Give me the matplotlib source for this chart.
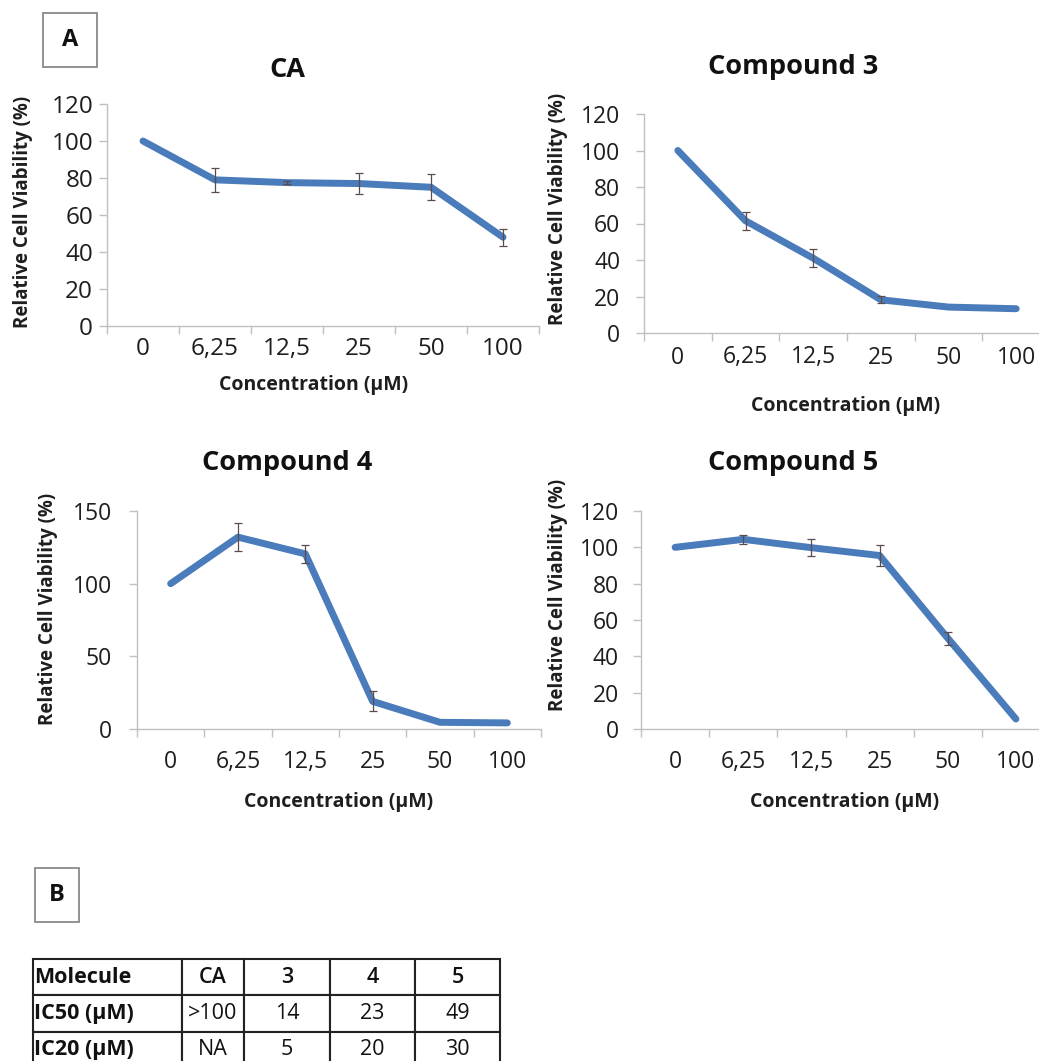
import numpy as np
import matplotlib
matplotlib.use("Agg")
import matplotlib.pyplot as plt
from matplotlib.patches import Rectangle

plt.rcParams['font.family'] = ['Open Sans', 'DejaVu Sans']

W, H = 1039, 1061
DPI = 100

concentrations = ["0", "6,25", "12,5", "25", "50", "100"]

ca_values = [100, 79, 77.5, 77, 75, 48]
ca_err = [0, 6.5, 1, 5.5, 7, 4.7]

c3_values = [100, 61.5, 41, 18.2, 14.2, 13.3]
c3_err = [0, 5, 4.8, 2, 0, 0]

c4_values = [100, 132, 120.5, 19, 4.6, 4.2]
c4_err = [0, 9.7, 6.3, 6.9, 0, 0]

c5_values = [100, 104.4, 99.8, 95.5, 50, 5.5]
c5_err = [0, 2.6, 4.8, 6, 3.5, 0]

table_header = ["Molecule", "CA", "3", "4", "5"]
ic50_row = ["IC50 (µM)", ">100", "14", "23", "49"]
ic20_row = ["IC20 (µM)", "NA", "5", "20", "30"]

LINE_COLOR = "#4A7BBA"
ERR_COLOR = "#5B4B4B"
SPINE_COLOR = "#C0C0C0"
TEXT_COLOR = "#1E1E1E"

fig = plt.figure(figsize=(W / DPI, H / DPI), dpi=DPI)


def px_axes(x0, y0, x1, y1):
    return fig.add_axes([x0 / W, 1 - y1 / H, (x1 - x0) / W, (y1 - y0) / H])


def fig_text(x, y, s, **kw):
    fig.text(x / W, 1 - y / H, s, **kw)


def panel(box, values, errs, ymax, ystep, title, title_xy, xlabel_xy, ylabel_xy,
          xpad, ypad, ticksize=16.5):
    ax = px_axes(*box)
    n = len(values)
    xs = np.arange(n) + 0.5
    ax.plot(xs, values, color=LINE_COLOR, lw=5, solid_joinstyle='round',
            solid_capstyle='round', zorder=2)
    errs = np.asarray(errs, dtype=float)
    vals = np.asarray(values, dtype=float)
    m = errs > 0
    ax.errorbar(xs[m], vals[m], yerr=errs[m], fmt='none', ecolor=ERR_COLOR,
                elinewidth=0.9, capsize=3.2, capthick=0.9, zorder=3)
    ax.set_xlim(0, n)
    ax.set_ylim(0, ymax)
    ax.set_yticks(np.arange(0, ymax + 1, ystep))
    ax.set_xticks(np.arange(0, n + 1))
    ax.set_xticklabels([])
    ax.set_xticks(xs, minor=True)
    ax.set_xticklabels(concentrations, minor=True)
    ax.tick_params(axis='x', which='major', length=6, color=SPINE_COLOR, width=1)
    ax.tick_params(axis='x', which='minor', length=0, pad=xpad,
                   labelsize=ticksize, labelcolor=TEXT_COLOR)
    ax.tick_params(axis='y', length=6, color=SPINE_COLOR, width=1, pad=ypad,
                   labelsize=ticksize, labelcolor=TEXT_COLOR)
    for s in ['top', 'right']:
        ax.spines[s].set_visible(False)
    for s in ['left', 'bottom']:
        ax.spines[s].set_color(SPINE_COLOR)
        ax.spines[s].set_linewidth(1)
    ax.patch.set_alpha(0)
    fig_text(*title_xy, title, fontsize=19.5, fontweight='bold', ha='center',
             va='center', color='#111111')
    fig_text(*xlabel_xy, "Concentration (µM)", fontsize=14, fontweight='bold',
             ha='center', va='center', color=TEXT_COLOR)
    fig_text(*ylabel_xy, "Relative Cell Viability (%)", fontsize=13.5,
             fontweight='bold', ha='center', va='center', rotation=90,
             color=TEXT_COLOR)
    return ax


panel((107, 104, 539, 326), ca_values, ca_err, 120, 20, "CA",
      (287, 70), (314, 385), (23, 212), 8, 4, ticksize=17.5)
panel((644, 114, 1050, 333), c3_values, c3_err, 120, 20, "Compound 3",
      (793, 67), (846, 406), (558, 209), 9, 11)
panel((137, 511, 541, 729), c4_values, c4_err, 150, 50, "Compound 4",
      (287, 463), (339, 802), (48, 609), 15, 12)
panel((641, 511, 1050, 729), c5_values, c5_err, 120, 20, "Compound 5",
      (793, 463), (845, 802), (558, 595), 15, 10)

# panel letter boxes
for (x0, y0, x1, y1, letter) in [(43, 13, 97, 67, "A"), (35, 868, 79, 922, "B")]:
    fig.patches.append(Rectangle((x0 / W, 1 - y1 / H), (x1 - x0) / W, (y1 - y0) / H,
                                 transform=fig.transFigure, fill=False,
                                 edgecolor='#8A8A8A', lw=1.3))
    fig_text((x0 + x1) / 2, (y0 + y1) / 2, letter, fontsize=17, fontweight='bold',
             ha='center', va='center', color='#111111')

# table
tax = px_axes(33, 959, 500, 1068)
tax.axis('off')
col_w = np.array([149, 62, 86, 85, 85], dtype=float)
col_w = col_w / col_w.sum()
tbl = tax.table(cellText=[ic50_row, ic20_row], colLabels=table_header,
                colWidths=list(col_w), bbox=[0, 0, 1, 1], cellLoc='center')
tbl.auto_set_font_size(False)
for (r, c), cell in tbl.get_celld().items():
    cell.set_edgecolor('#222222')
    cell.set_linewidth(1.5)
    cell.get_text().set_fontsize(15.5)
    cell.get_text().set_color('#111111')
    if c == 0:
        cell.get_text().set_ha('left')
        cell._loc = 'left'
        cell.PAD = 0.01
        cell.get_text().set_fontweight('bold')
    elif r == 0:
        cell.get_text().set_fontweight('semibold')

fig.savefig("out.png", dpi=DPI)
